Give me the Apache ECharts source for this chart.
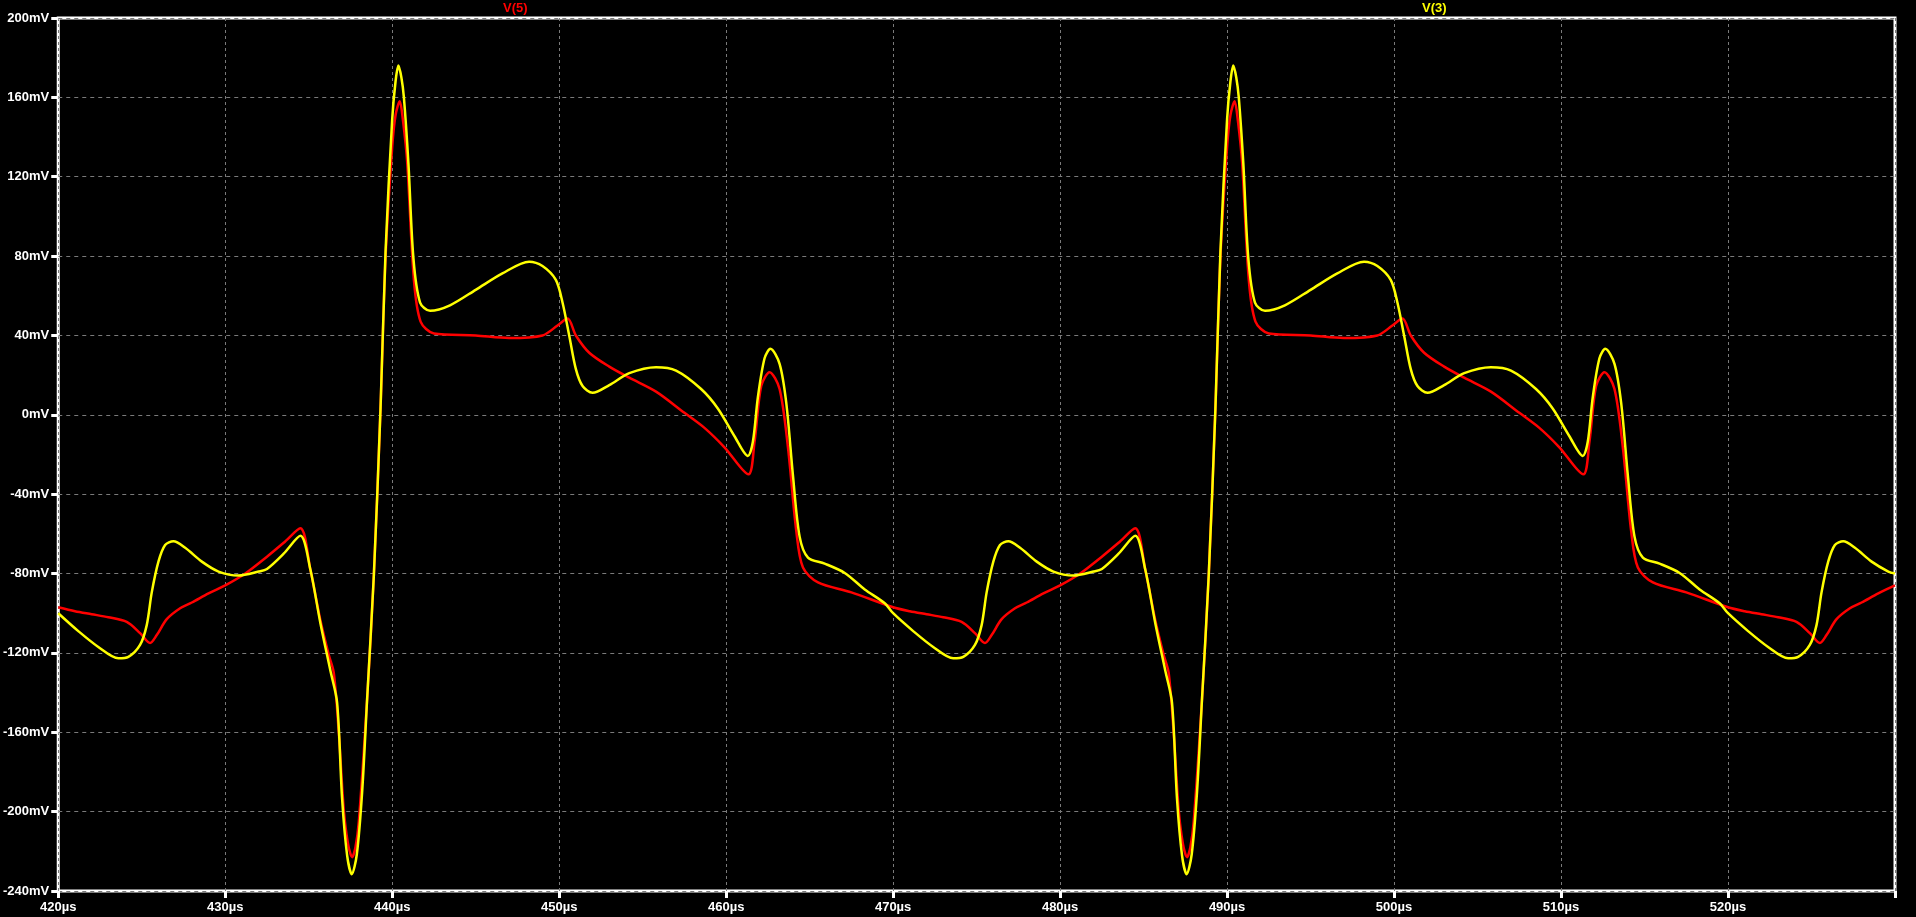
<!DOCTYPE html>
<html>
<head>
<meta charset="utf-8">
<script src="https://cdn.jsdelivr.net/npm/echarts@6/dist/echarts.min.js"></script>
<style>
html,body{margin:0;padding:0;background:#000;}
#chart{width:1916px;height:917px;}
</style>
</head>
<body>
<div id="chart"></div>
<script>
// Time axis (µs) and voltage axis (mV)
const xTicks = [420, 430, 440, 450, 460, 470, 480, 490, 500, 510, 520, 530];
const yTicks = [-240, -200, -160, -120, -80, -40, 0, 40, 80, 120, 160, 200];
const seriesNames = ['V(5)', 'V(3)'];

// V(5) — red trace, [time µs, mV]
const v5Points = [
  [420,-97],[421,-99],[422,-100.5],[423,-102],[424.1,-104.4],[424.9,-110],[425.5,-115],[425.9,-111],[426.5,-103],[427.3,-97.5],
  [428,-94.6],[429,-90],[430,-86],[431.2,-80],[432.5,-71.5],[433.5,-64.5],[434.5,-57.2],[435.1,-78],[435.7,-103.6],[436.2,-121],
  [436.5,-130],[436.8,-160],[437.1,-199],[437.35,-216],[437.6,-223],[437.8,-218],[438,-205],[438.5,-143],[438.9,-81],[439.3,3],
  [439.6,79],[440,135],[440.2,151],[440.45,158],[440.65,148],[440.9,127],[441.3,68],[441.7,47],[442.5,41],[445,40],
  [447,38.7],[449,40],[449.9,45],[450.5,48.5],[451,40],[451.8,31.3],[453,24.3],[454.2,18.7],[455.8,11.7],[457.5,1],
  [458.7,-6.6],[459.9,-16.4],[461.33,-30],[461.7,-13.6],[462.1,14.5],[462.6,21.5],[463.2,13],[463.7,-16.4],[464.2,-58.6],[464.6,-77],
  [465.5,-84.5],[467.5,-89.5],
  [470,-97],[471,-99],[472,-100.5],[473,-102],[474.1,-104.4],[474.9,-110],[475.5,-115],[475.9,-111],[476.5,-103],[477.3,-97.5],
  [478,-94.6],[479,-90],[480,-86],[481.2,-80],[482.5,-71.5],[483.5,-64.5],[484.5,-57.2],[485.1,-78],[485.7,-103.6],[486.2,-121],
  [486.5,-130],[486.8,-160],[487.1,-199],[487.35,-216],[487.6,-223],[487.8,-218],[488,-205],[488.5,-143],[488.9,-81],[489.3,3],
  [489.6,79],[490,135],[490.2,151],[490.45,158],[490.65,148],[490.9,127],[491.3,68],[491.7,47],[492.5,41],[495,40],
  [497,38.7],[499,40],[499.9,45],[500.5,48.5],[501,40],[501.8,31.3],[503,24.3],[504.2,18.7],[505.8,11.7],[507.5,1],
  [508.7,-6.6],[509.9,-16.4],[511.33,-30],[511.7,-13.6],[512.1,14.5],[512.6,21.5],[513.2,13],[513.7,-16.4],[514.2,-58.6],[514.6,-77],
  [515.5,-84.5],[517.5,-89.5],
  [520,-97],[521,-99],[522,-100.5],[523,-102],[524.1,-104.4],[524.9,-110],[525.5,-115],[525.9,-111],[526.5,-103],[527.3,-97.5],
  [528,-94.6],[529,-90],[530,-86]
];

// V(3) — yellow trace, [time µs, mV]
const v3Points = [
  [420,-100],[421.2,-109],[422.4,-117],[423.6,-122.7],[424.2,-122],[424.9,-116],[425.3,-106],[425.6,-89.5],[426,-74],[426.4,-65.6],
  [426.9,-63.7],[427.6,-67],[428.6,-74],[429.6,-79],[430.8,-81],[432,-79],[432.5,-77.7],[433.5,-70],[434.5,-61],[435.1,-78],
  [435.7,-105],[436.3,-129],[436.7,-145],[437,-193.5],[437.3,-222],[437.58,-231.5],[437.88,-221.6],[438.2,-190],[438.5,-143],[438.9,-81],
  [439.3,3],[439.6,82],[440,149],[440.2,168],[440.37,176],[440.55,170],[440.7,160],[440.97,127],[441.27,79],[441.67,56.6],
  [442.27,52.4],[443.46,55.2],[445,63],[446.6,71.3],[448.2,77.2],[449,75],[449.8,68],[450.2,56.6],[450.6,40],[451,23],
  [451.4,14.5],[452,11.1],[453,15],[454.2,21],[455.8,24],[457,22.3],[458.5,13],[459.5,3.2],[460.5,-10.8],[461.3,-20.7],
  [461.6,-13.6],[461.9,8.9],[462.3,28.5],[462.65,33.3],[463.2,25.7],[463.6,6],[464,-30.5],[464.4,-61.4],[464.9,-72],[465.9,-75],
  [467.1,-79.7],[468.3,-88],[469.5,-95],
  [470,-100],[471.2,-109],[472.4,-117],[473.6,-122.7],[474.2,-122],[474.9,-116],[475.3,-106],[475.6,-89.5],[476,-74],[476.4,-65.6],
  [476.9,-63.7],[477.6,-67],[478.6,-74],[479.6,-79],[480.8,-81],[482,-79],[482.5,-77.7],[483.5,-70],[484.5,-61],[485.1,-78],
  [485.7,-105],[486.3,-129],[486.7,-145],[487,-193.5],[487.3,-222],[487.58,-231.5],[487.88,-221.6],[488.2,-190],[488.5,-143],[488.9,-81],
  [489.3,3],[489.6,82],[490,149],[490.2,168],[490.37,176],[490.55,170],[490.7,160],[490.97,127],[491.27,79],[491.67,56.6],
  [492.27,52.4],[493.46,55.2],[495,63],[496.6,71.3],[498.2,77.2],[499,75],[499.8,68],[500.2,56.6],[500.6,40],[501,23],
  [501.4,14.5],[502,11.1],[503,15],[504.2,21],[505.8,24],[507,22.3],[508.5,13],[509.5,3.2],[510.5,-10.8],[511.3,-20.7],
  [511.6,-13.6],[511.9,8.9],[512.3,28.5],[512.65,33.3],[513.2,25.7],[513.6,6],[514,-30.5],[514.4,-61.4],[514.9,-72],[515.9,-75],
  [517.1,-79.7],[518.3,-88],[519.5,-95],
  [520,-100],[521.2,-109],[522.4,-117],[523.6,-122.7],[524.2,-122],[524.9,-116],[525.3,-106],[525.6,-89.5],[526,-74],[526.4,-65.6],
  [526.9,-63.7],[527.6,-67],[528.6,-74],[529.6,-79],[530,-80]
];

const FONT = 'Liberation Sans';
const chart = echarts.init(document.getElementById('chart'), null, {renderer: 'canvas'});
chart.setOption({
  backgroundColor: '#000',
  animation: false,
  graphic: [
    {type: 'text', left: 503, top: 2, style: {text: seriesNames[0], fill: '#ff0000', font: 'bold 13px "' + FONT + '"'}},
    {type: 'text', left: 1422, top: 2, style: {text: seriesNames[1], fill: '#ffff00', font: 'bold 13px "' + FONT + '"'}}
  ],
  grid: {left: 56, right: 21, top: 18, bottom: 26, show: true, borderColor: '#ffffff', borderWidth: 3, backgroundColor: '#000'},
  xAxis: {
    type: 'value', min: xTicks[0], max: xTicks[xTicks.length - 1], interval: 10,
    axisLine: {show: false, onZero: false},
    axisTick: {show: true, length: 7, lineStyle: {color: '#fff', width: 3}},
    axisLabel: {
      color: '#fff', fontFamily: FONT, fontWeight: 'bold', fontSize: 13, margin: 10,
      formatter: v => (v === 530 ? '' : v + 'µs')
    },
    splitLine: {show: true, lineStyle: {color: '#7a7a7a', type: [3, 3], width: 1}}
  },
  yAxis: {
    type: 'value', min: yTicks[0], max: yTicks[yTicks.length - 1], interval: 40,
    axisLine: {show: false, onZero: false},
    axisTick: {show: true, length: 7, lineStyle: {color: '#fff', width: 3}},
    axisLabel: {color: '#fff', fontFamily: FONT, fontWeight: 'bold', fontSize: 13, margin: 9, formatter: v => v + 'mV'},
    splitLine: {show: true, lineStyle: {color: '#7a7a7a', type: [4, 4], width: 1}}
  },
  series: [
    {name: seriesNames[0], type: 'line', data: v5Points, showSymbol: false, smooth: 0.3,
     lineStyle: {color: '#ff0000', width: 2.5}, z: 2},
    {name: seriesNames[1], type: 'line', data: v3Points, showSymbol: false, smooth: 0.3,
     lineStyle: {color: '#ffff00', width: 2.5}, z: 3}
  ]
});
</script>
</body>
</html>
